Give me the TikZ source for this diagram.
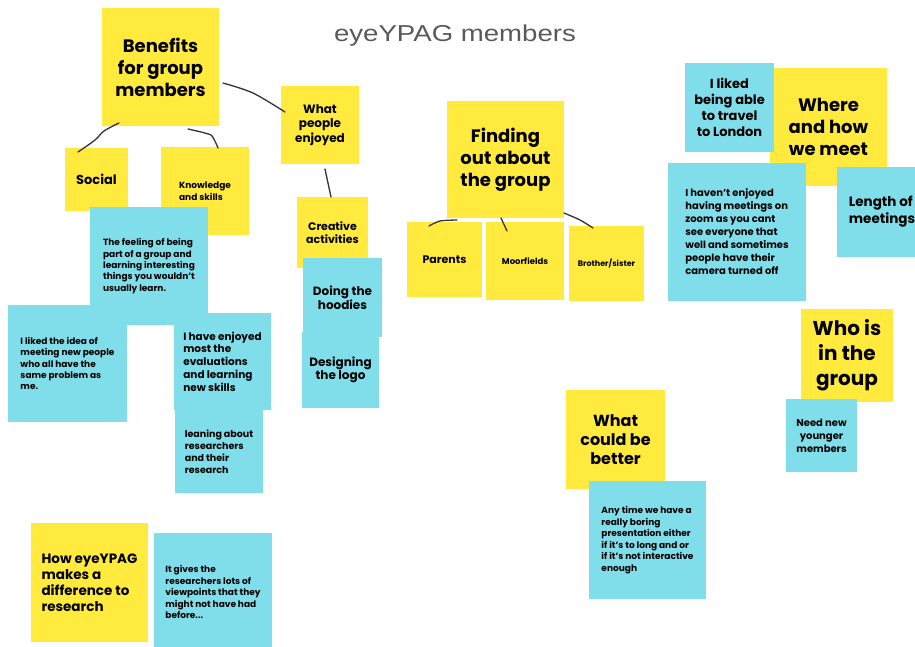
\documentclass[tikz,border=0pt]{standalone}
\usepackage{fontspec}
\setmainfont{Poppins}
\newfontfamily\titlefont{Liberation Sans}
\definecolor{sticky}{HTML}{FFEA3D}
\definecolor{note}{HTML}{80DEEA}
\definecolor{ink}{HTML}{333333}
\definecolor{titlegray}{HTML}{595959}
\tikzset{
  ybox/.style={fill=sticky, inner sep=0pt, outer sep=0pt},
  bbox/.style={fill=note, inner sep=0pt, outer sep=0pt},
  fs/.style n args={2}{font=\fontsize{#1}{#2}\selectfont\bfseries},
  conn/.style={draw=ink, line width=1.3pt, line cap=round, line join=round},
}
\begin{document}
\begin{tikzpicture}[x=1pt, y=-1pt]
\useasboundingbox (0,0) rectangle (915,646);
\fill[white] (0,0) rectangle (915,646);
\clip (0,0) rectangle (915,646);

\node[text=titlegray, font=\titlefont\fontsize{23}{27}\selectfont, xscale=1.2, transform shape] (title) at (455,36) {eyeYPAG members};

% left cluster
\node[ybox, minimum width=117, minimum height=118, align=center, fs={18}{22}] (benefits) at (160.5,67) {Benefits\\for group\\members};
\node[ybox, minimum width=63, minimum height=63, align=center, fs={13}{16}] (social) at (96.5,179.5) {Social};
\node[ybox, minimum width=88, minimum height=88, align=left, fs={9}{12}] (knowledge) at (205,191) {Knowledge\\and skills};
\node[ybox, minimum width=78, minimum height=78, align=center, fs={12}{14.5}] (whatpeople) at (320,125) {What\\people\\enjoyed};
\node[ybox, minimum width=71, minimum height=71, align=center, fs={11}{13.5}] (creative) at (332.5,232.5) {Creative\\activities};
\node[bbox, minimum width=118, minimum height=118, align=left, fs={9}{11.3}] (feeling) at (149,266) {The feeling of being\\part of a group and\\learning interesting\\things you wouldn't\\usually learn.};
\node[bbox, minimum width=119, minimum height=117, align=left, fs={9}{11.3}] (likedidea) at (67.5,363.5) {I liked the idea of\\meeting new people\\who all have the\\same problem as\\me.};
\node[bbox, minimum width=88, minimum height=83, align=left, fs={9.5}{12}] (leaning) at (219,451.5) {leaning about\\researchers\\and their\\research};
\node[bbox, minimum width=97, minimum height=97, align=left, fs={10.5}{12.8}] (enjoyed) at (222.5,361.5) {I have enjoyed\\most the\\evaluations\\and learning\\new skills};
\node[bbox, minimum width=79, minimum height=79, align=center, fs={12}{14}] (hoodies) at (342.5,297.5) {Doing the\\hoodies};
\node[bbox, minimum width=77, minimum height=76, align=center, fs={12}{13.5}] (logo) at (340.5,370) {Designing\\the logo};

% middle cluster
\node[ybox, minimum width=117, minimum height=117, align=center, fs={18}{22}] (finding) at (505.5,159.5) {Finding\\out about\\the group};
\node[ybox, minimum width=75, minimum height=75, align=center, fs={11}{13}] (parents) at (444.5,259.5) {Parents};
\node[ybox, minimum width=78, minimum height=78, align=center, fs={8.5}{10}] (moorfields) at (525,261) {Moorfields};
\node[ybox, minimum width=75, minimum height=75, align=center, fs={8}{10}] (brother) at (606.5,263.5) {Brother/sister};

% right cluster
\node[ybox, minimum width=117, minimum height=118, align=center, fs={18}{22}] (where) at (828.5,127) {Where\\and how\\we meet};
\node[bbox, minimum width=89, minimum height=89, align=center, fs={13}{16}] (travel) at (729.5,107.5) {I liked\\being able\\to travel\\to London};
\node[bbox, minimum width=138, minimum height=138, align=left, fs={10}{13}] (zoom) at (737,232) {I haven't enjoyed\\having meetings on\\zoom as you cant\\see everyone that\\well and sometimes\\people have their\\camera turned off};
\node[bbox, minimum width=90, minimum height=90, align=left, fs={13.5}{17}] (length) at (882,212) {Length of\\meetings};
\node[ybox, minimum width=92, minimum height=93, align=center, fs={20}{25}] (whois) at (847,355.5) {Who is\\in the\\group};
\node[bbox, minimum width=71, minimum height=73, align=center, fs={10}{13}] (neednew) at (821.5,435.5) {Need new\\younger\\members};
\node[ybox, minimum width=99, minimum height=99, align=center, fs={16}{19}] (couldbe) at (615.5,439.5) {What\\could be\\better};
\node[bbox, minimum width=117, minimum height=118, align=left, fs={9}{11.5}] (anytime) at (647.5,540) {Any time we have a\\really boring\\presentation either\\if it's to long and or\\if it's not interactive\\enough};

% bottom left
\node[ybox, minimum width=117, minimum height=119, align=left, fs={13.5}{16}] (howeye) at (89.5,582.5) {How eyeYPAG\\makes a\\difference to\\research};
\node[bbox, minimum width=118, minimum height=118, align=left, fs={9}{11.5}] (gives) at (213,592) {It gives the\\researchers lots of\\viewpoints that they\\might not have had\\before...};

% connectors
\draw[conn] plot[smooth, tension=0.6] coordinates {([shift={(17,-3)}]benefits.south west) (104,131) (95,140) ([shift={(13,4)}]social.north west)};
\draw[conn] plot[smooth, tension=0.3] coordinates {([shift={(86,3)}]benefits.south west) (211,135) ([shift={(57,1)}]knowledge.north west)};
\draw[conn] plot[smooth, tension=0.5] coordinates {([shift={(4,75)}]benefits.north east) (253,93) ([shift={(4,26)}]whatpeople.north west)};
\draw[conn] ([shift={(44,5)}]whatpeople.south west) -- ([shift={(34,0)}]creative.north west);
\draw[conn] plot[smooth, tension=0.5] coordinates {([shift={(10,2)}]finding.south west) (440,221) ([shift={(22,4)}]parents.north west)};
\draw[conn] ([shift={(54,0)}]finding.south west) -- ([shift={(21,9)}]moorfields.north west);
\draw[conn] plot[smooth, tension=0.5] coordinates {([shift={(0,-5)}]finding.south east) (580,220) ([shift={(24,2)}]brother.north west)};
\end{tikzpicture}
\end{document}
